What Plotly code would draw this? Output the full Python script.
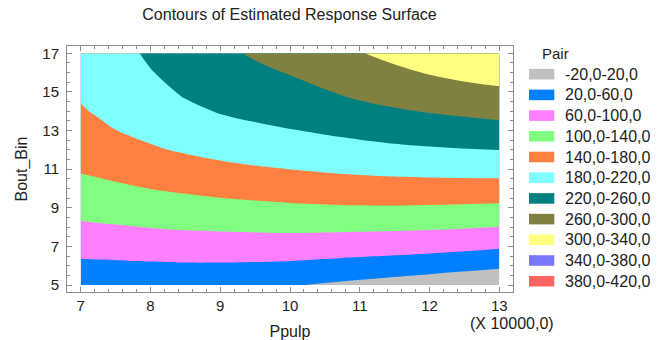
import plotly.graph_objects as go

# ---------------- data ----------------
ppulp = [70000, 72500, 75000, 77500, 80000, 85000, 90000, 95000, 100000, 110000, 120000, 130000]
bout_bin = [5, 6, 7, 8, 9, 10, 11, 12, 13, 14, 15, 16, 17]

# estimated response (rows follow bout_bin, columns follow ppulp)
response = [
    [29.0, 30.0, 30.6, 30.9, 31.0, 31.0, 29.8, 27.9, 22.5, 10.6, -2.0, -13.2],
    [52.5, 53.2, 53.7, 54.5, 55.0, 56.1, 55.9, 55.0, 53.0, 45.8, 37.3, 26.5],
    [73.5, 74.8, 75.8, 76.9, 78.3, 80.3, 81.0, 81.3, 81.1, 77.5, 73.0, 64.5],
    [94.2, 96.2, 97.6, 99.2, 101.2, 104.0, 105.5, 107.1, 108.3, 107.1, 104.7, 99.3],
    [111.9, 114.2, 116.3, 118.4, 120.9, 125.1, 128.6, 131.5, 134.1, 136.7, 135.7, 132.4],
    [128.4, 131.5, 134.6, 137.4, 140.5, 145.7, 150.7, 154.4, 157.5, 163.0, 164.8, 164.4],
    [143.3, 146.6, 150.3, 154.4, 158.4, 165.3, 171.8, 176.5, 180.2, 187.3, 191.5, 193.6],
    [154.5, 159.6, 164.9, 170.9, 176.3, 183.6, 189.9, 195.4, 199.4, 208.9, 216.0, 220.3],
    [165.6, 172.6, 179.6, 184.8, 188.0, 197.8, 206.3, 213.7, 218.6, 229.9, 239.4, 247.0],
    [176.8, 183.5, 187.8, 194.4, 198.1, 212.0, 222.2, 228.1, 233.4, 250.1, 262.2, 271.5],
    [184.5, 190.8, 194.0, 203.5, 208.2, 224.5, 234.0, 240.4, 247.8, 267.8, 282.3, 294.0],
    [190.0, 195.5, 200.0, 210.5, 218.3, 233.5, 244.0, 252.7, 261.9, 283.1, 302.2, 314.6],
    [195.0, 200.0, 205.0, 216.4, 226.0, 242.0, 252.0, 264.4, 273.8, 298.5, 320.0, 334.6],
]

level_start = -20
level_end = 420
level_step = 40

band_labels = ["-20,0-20,0", "20,0-60,0", "60,0-100,0", "100,0-140,0", "140,0-180,0",
               "180,0-220,0", "220,0-260,0", "260,0-300,0", "300,0-340,0",
               "340,0-380,0", "380,0-420,0"]
band_colors = ["#C0C0C0", "#0080FF", "#FF80FF", "#80FF80", "#FF8040",
               "#80FFFF", "#008080", "#808040", "#FFFF80", "#7878FF", "#FF6464"]

x_tick_vals = [70000, 80000, 90000, 100000, 110000, 120000, 130000]
x_tick_text = ["7", "8", "9", "10", "11", "12", "13"]
y_tick_vals = [5, 7, 9, 11, 13, 15, 17]

# ---------------- figure ----------------
W, H = 658, 340
ML, MR, MT, MB = 67, 145, 46, 48
PW, PH = W - ML - MR, H - MT - MB


def pxx(x):
    return (x - ML) / PW


def pxy(y):
    return (H - MB - y) / PH


nslots = len(band_colors) + 1
colorscale = []
for k in range(nslots + 1):
    c = band_colors[min(max(k - 1, 0), len(band_colors) - 1)]
    lo = max(0.0, (k - 0.5) / nslots)
    hi = min(1.0, (k + 0.5) / nslots)
    colorscale.append([lo, c])
    colorscale.append([hi, c])

fig = go.Figure()
fig.add_trace(go.Contour(
    x=ppulp, y=bout_bin, z=response,
    autocontour=False,
    contours=dict(start=level_start, end=level_end, size=level_step, coloring="fill"),
    colorscale=colorscale,
    line=dict(width=0, smoothing=1.3),
    showscale=False,
    hoverinfo="skip",
))

FONT = "Liberation Sans, Arial, sans-serif"
axcol = "#8c8c8c"

fig.update_layout(
    width=W, height=H,
    margin=dict(l=ML, r=MR, t=MT, b=MB, autoexpand=False),
    paper_bgcolor="white", plot_bgcolor="white",
    font=dict(family=FONT, size=15, color="#222222"),
    showlegend=False,
    title=dict(text="Contours of Estimated Response Surface",
               x=pxx(289.5), xref="paper", xanchor="center",
               y=1 - 14 / H, yref="container", yanchor="middle",
               font=dict(size=16, color="#222222")),
    xaxis=dict(
        range=[68036, 131964], automargin=False,
        tickmode="array", tickvals=x_tick_vals, ticktext=x_tick_text,
        ticks="inside", ticklen=5, tickcolor=axcol, tickwidth=1,
        minor=dict(tick0=70000, dtick=2000, ticks="inside", ticklen=3, tickcolor=axcol),
        showline=True, linecolor=axcol, linewidth=1, mirror="ticks",
        showgrid=False, zeroline=False,
        tickfont=dict(size=15),
        ticklabelstandoff=0,
        title=dict(text="Ppulp", font=dict(size=16), standoff=13),
    ),
    yaxis=dict(
        range=[4.6375, 17.378], automargin=False,
        tickmode="array", tickvals=y_tick_vals,
        ticks="inside", ticklen=5, tickcolor=axcol, tickwidth=1,
        minor=dict(tick0=5, dtick=0.5, ticks="inside", ticklen=3, tickcolor=axcol),
        showline=True, linecolor=axcol, linewidth=1, mirror="ticks",
        showgrid=False, zeroline=False,
        tickfont=dict(size=15),
        ticklabelstandoff=4,
        title=dict(text="Bout_Bin", font=dict(size=16), standoff=10),
    ),
)

annotations = [
    dict(text="(X 10000,0)", x=pxx(511.7), y=pxy(323), xref="paper", yref="paper",
         xanchor="center", yanchor="middle", showarrow=False, font=dict(size=16)),
    dict(text="Pair", x=pxx(555.5), y=pxy(54), xref="paper", yref="paper",
         xanchor="center", yanchor="middle", showarrow=False, font=dict(size=15)),
]
shapes = []
for i, (lab, col) in enumerate(zip(band_labels, band_colors)):
    cy = 74.2 + 20.7 * i
    shapes.append(dict(type="rect", xref="paper", yref="paper",
                       x0=pxx(529), x1=pxx(554.3), y0=pxy(cy - 5.3), y1=pxy(cy + 5.3),
                       fillcolor=col, line=dict(width=0)))
    annotations.append(dict(text=lab, x=pxx(562.7), y=pxy(cy), xref="paper", yref="paper",
                            xanchor="left", yanchor="middle", showarrow=False,
                            font=dict(size=16)))
fig.update_layout(annotations=annotations, shapes=shapes)

fig.write_html("out.html")
